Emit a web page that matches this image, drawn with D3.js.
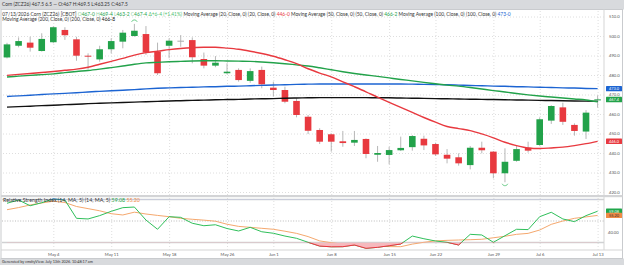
<!DOCTYPE html>
<html>
<head>
<meta charset="utf-8">
<script src="https://cdn.jsdelivr.net/npm/d3@7"></script>
<style>
  html, body { margin: 0; padding: 0; background: #fff; }
  svg { display: block; font-family: Lato, "Open Sans", sans-serif; }
</style>
</head>
<body>
<svg id="chart" width="624" height="265"></svg>
<script>
const days = ["Apr 28","Apr 29","Apr 30","May 1","May 4","May 5","May 6","May 7","May 8",
  "May 11","May 12","May 13","May 14","May 15","May 18","May 19","May 20","May 21","May 22",
  "May 26","May 27","May 28","May 29","Jun 1","Jun 2","Jun 3","Jun 4","Jun 5",
  "Jun 8","Jun 9","Jun 10","Jun 11","Jun 12","Jun 15","Jun 16","Jun 17","Jun 18",
  "Jun 22","Jun 23","Jun 24","Jun 25","Jun 26","Jun 29","Jun 30","Jul 1","Jul 2",
  "Jul 6","Jul 7","Jul 8","Jul 9","Jul 10","Jul 13"];

const open = [489, 495, 496.6, 492.3, 496.8, 503.1, 498.3, 489.9, 488, 493.2, 497.1, 500, 501, 492,
  495, 497.6, 497.9, 488.2, 484.8, 480.9, 482.6, 477, 482.6, 473.5, 472.3, 466.7, 458.6, 451.8,
  449.6, 446, 445.3, 447.2, 439.1, 439, 441.4, 443, 447.3, 444.6, 439.1, 437.8, 433.8, 442.7,
  440.7, 429.6, 436, 442.7, 444.1, 456.6, 463.4, 454.4, 451, 467];
const high = [496.5, 499.3, 499.6, 501.4, 505, 504.5, 499.6, 491.1, 495, 498.8, 503.1, 506.2, 505.1, 496.6,
  498.8, 500.5, 499.3, 491.5, 489.7, 486, 483.4, 483.4, 484.3, 476.6, 474, 468, 459.5, 452.7,
  450.1, 451.3, 451.3, 447.5, 443.6, 443.2, 448.4, 449.2, 448.9, 445.3, 442, 439.8, 443.6, 445.8,
  441, 442.4, 443.6, 445.8, 458.3, 464.5, 465.8, 455.2, 462, 469.5];
const low = [488.5, 494.2, 492, 492, 496.3, 498, 487.3, 482.9, 486.8, 491.1, 493.7, 499.6, 490.3, 480,
  488.6, 494.5, 486, 483.4, 484, 480.4, 476.6, 476, 473.2, 468.9, 465.5, 458.3, 449.7, 444.6,
  440.7, 443.2, 443.6, 437.3, 435.5, 434.2, 441, 441.2, 441.5, 438.5, 434.7, 433.5, 431.6, 439.8,
  427, 425, 435.5, 440.2, 443.6, 454.9, 454.4, 448.9, 447.2, 463.25];
const close = [495.7, 497.4, 494, 498.5, 504.5, 500.4, 489.9, 489.6, 493.2, 497.4, 501.7, 502.7, 491.5, 480.9,
  497.6, 497.6, 489.1, 484.8, 486.3, 481.7, 477.4, 482, 475.2, 472.3, 466.3, 459.5, 451.4, 445.8,
  445.8, 445.1, 446.7, 439.5, 440, 441.5, 442.6, 448.7, 443.9, 439.3, 437.1, 434.7, 442.7, 441.4,
  429.6, 435.5, 442, 441.2, 457.3, 464.1, 456, 451.3, 460.7, 467.5];

const ma20 = [479.8, 480.3, 480.8, 481.3, 481.8, 482.4, 483, 484, 485.5, 487, 488.5, 490.2, 491.5, 492.2,
  493, 493.6, 494, 494.2, 494.2, 493.8, 493.2, 492.2, 491, 489.6, 487.8, 485.8, 483.2, 481,
  479, 476.5, 474, 471.4, 468.6, 466, 463.4, 460.8, 458.2, 455.8, 453.6, 452.5, 451.5, 449.8,
  447.8, 445.5, 443.8, 442.6, 442.3, 442.6, 443, 443.8, 444.8, 446];
const ma50 = [479, 479.4, 479.8, 480.2, 480.6, 481.2, 481.8, 482.3, 483, 483.8, 484.6, 485.5, 486.2, 486.5,
  486.8, 487, 487.2, 487.3, 487.3, 487.2, 487.1, 487, 486.7, 486.3, 485.8, 485.2, 484.6, 483.7,
  482.7, 481.7, 480.8, 480, 479.3, 478.5, 477.7, 477, 476.2, 475.5, 474.8, 474.3, 473.6, 472.8,
  472, 471.3, 470.5, 469.8, 469.2, 468.7, 468.2, 467.7, 467.2, 466.3];
const ma100 = [469, 469.3, 469.6, 470, 470.3, 470.6, 470.9, 471.3, 471.6, 471.9, 472.2, 472.5, 472.9, 473.2,
  473.4, 473.6, 473.7, 473.9, 474, 474.2, 474.3, 474.5, 474.7, 474.9, 475, 475.2, 475.3, 475.4,
  475.4, 475.4, 475.4, 475.4, 475.4, 475.4, 475.4, 475.3, 475.2, 475.1, 475, 474.8, 474.6, 474.5,
  474.3, 474.2, 474, 473.9, 473.7, 473.6, 473.4, 473.3, 473.1, 473];
const ma200 = [463.5, 463.8, 464, 464.3, 464.5, 464.8, 465, 465.3, 465.5, 465.7, 465.9, 466.1, 466.3, 466.5,
  466.7, 466.8, 467, 467.1, 467.3, 467.4, 467.5, 467.7, 467.8, 467.9, 468.1, 468.2, 468.3, 468.4,
  468.4, 468.4, 468.4, 468.4, 468.3, 468.3, 468.2, 468.1, 468, 467.9, 467.8, 467.7, 467.6, 467.5,
  467.4, 467.3, 467.2, 467.1, 467, 466.9, 466.8, 466.7, 466.6, 466.5];

const rsi = [66.5, 69.5, 64.2, 67, 70.5, 69.5, 52.5, 51.9, 55, 59, 62.4, 63, 50.9, 42.3,
  54, 53.4, 47.9, 45.6, 46.5, 43, 40.7, 44.1, 40, 38.6, 36, 33.9, 30.2, 26.7,
  26, 26.1, 27.7, 24.6, 25.5, 27, 28.6, 36, 33.5, 31.4, 30.2, 27.7, 37.6, 37,
  30.2, 36.3, 42.3, 42, 54, 58.1, 51.9, 49.4, 55, 59.08];
const rsiMa = [60.5, 62.5, 64.9, 66.8, 68.4, 67.2, 63.5, 61.5, 59.5, 56.8, 55.6, 58.2, 56.5, 55.2,
  54, 52.5, 51.6, 50.8, 49.8, 47, 45, 44.1, 43.2, 42.3, 40.5, 38.5, 35.5, 31.5,
  29.8, 28.5, 27.5, 26.8, 26.5, 26.2, 26.1, 28.5, 30.2, 31.5, 32, 32.3, 32.6, 33,
  34.4, 35.8, 37.6, 38.5, 41.6, 46.9, 50, 52.5, 53.8, 55.2];

const priceTicks = [420, 430, 440, 450, 460, 470, 480, 490, 500, 510];
const rsiTicks = [40, 60];
const weekTicks = ["May 4","May 11","May 18","May 26","Jun 1","Jun 8","Jun 15","Jun 22","Jun 29","Jul 6","Jul 13"];

const GREEN = "#22a24a", RED = "#e8393f", BLUE = "#1c64d2", BLACK = "#111", ORANGE = "#f5a86e";

const svg = d3.select("#chart");
const plotLeft = 2, plotRight = 604;
const mainTop = 10, mainBottom = 195;
const rsiTop = 196, rsiBottom = 250;

const x = d3.scalePoint().domain(days).range([7, 597.6]);
const y = d3.scaleLinear().domain([420, 500]).range([192, 36]);
const yRsi = d3.scaleLinear().domain([30, 70]).range([242.5, 199.5]);

// frame
svg.append("rect").attr("width", 624).attr("height", 265).attr("fill", "#fff");
svg.append("rect").attr("x", 0).attr("y", 0).attr("width", 624).attr("height", 9.5).attr("fill", "#d8dadd");
svg.append("rect").attr("x", 0).attr("y", 258.5).attr("width", 624).attr("height", 6.5).attr("fill", "#d8dadd");
svg.append("rect").attr("x", 1).attr("y", 9.5).attr("width", 621.5).attr("height", 249)
  .attr("fill", "none").attr("stroke", "#c9cbce").attr("stroke-width", 1);
svg.append("line").attr("x1", plotRight).attr("x2", plotRight).attr("y1", 9.5).attr("y2", rsiBottom)
  .attr("stroke", "#d5d5d5");
svg.append("rect").attr("x", 1).attr("y", mainBottom).attr("width", 621.5).attr("height", 2.2).attr("fill", "#d3d4d6");
svg.append("line").attr("x1", 1).attr("x2", 622.5).attr("y1", rsiBottom).attr("y2", rsiBottom).attr("stroke", "#d5d5d5");

// grids
function dotted(g) {
  g.select(".domain").remove();
  g.selectAll("line").attr("stroke", "#dedede").attr("stroke-dasharray", "1,2");
}
svg.append("g").attr("transform", `translate(${plotRight},0)`)
  .call(d3.axisLeft(y).tickValues(priceTicks).tickSize(plotRight - plotLeft).tickFormat(""))
  .call(dotted);
svg.append("g").attr("transform", `translate(0,${mainBottom})`)
  .call(d3.axisBottom(x).tickValues(weekTicks).tickSize(-(mainBottom - mainTop)).tickFormat(""))
  .call(dotted);
svg.append("g").attr("transform", `translate(0,${rsiBottom})`)
  .call(d3.axisBottom(x).tickValues(weekTicks).tickSize(-(rsiBottom - rsiTop - 2)).tickFormat(""))
  .call(dotted);

// price axis
svg.append("g").attr("transform", `translate(${plotRight},0)`)
  .call(d3.axisRight(y).tickValues(priceTicks).tickSize(0).tickPadding(5).tickFormat(d3.format(".1f")))
  .call(g => g.select(".domain").remove())
  .call(g => g.selectAll("text").attr("font-size", 4.2).attr("fill", "#555").attr("font-family", "Lato"));

svg.append("g").attr("transform", `translate(${plotRight},0)`)
  .call(d3.axisRight(yRsi).tickValues(rsiTicks).tickSize(0).tickPadding(4).tickFormat(d3.format(".2f")))
  .call(g => g.select(".domain").remove())
  .call(g => g.selectAll("text").attr("font-size", 4.2).attr("fill", "#555").attr("font-family", "Lato"));

// date axis
svg.append("g").attr("transform", `translate(0,${rsiBottom})`)
  .call(d3.axisBottom(x).tickValues(weekTicks).tickSize(0).tickPadding(2.6))
  .call(g => g.select(".domain").remove())
  .call(g => g.selectAll("text").attr("font-size", 4.2).attr("fill", "#555").attr("font-family", "Lato"));

// main plot
svg.append("clipPath").attr("id", "mainClip").append("rect")
  .attr("x", plotLeft).attr("y", mainTop).attr("width", plotRight - plotLeft).attr("height", mainBottom - mainTop);
const main = svg.append("g").attr("clip-path", "url(#mainClip)");

const candles = days.map((d, i) => ({ d, o: open[i], h: high[i], l: low[i], c: close[i] }));
const bodyW = 6.6;
const candleColor = k => k.c > k.o ? GREEN : k.c < k.o ? RED : "#aaa";

main.selectAll("line.wick").data(candles).enter().append("line").attr("class", "wick")
  .attr("x1", k => x(k.d)).attr("x2", k => x(k.d))
  .attr("y1", k => y(k.h)).attr("y2", k => y(k.l))
  .attr("stroke", "#a4a4a4").attr("stroke-width", 0.8);

main.selectAll("rect.body").data(candles).enter().append("rect").attr("class", "body")
  .attr("x", k => x(k.d) - bodyW / 2).attr("width", bodyW)
  .attr("y", k => y(Math.max(k.o, k.c)))
  .attr("height", k => Math.max(1, Math.abs(y(k.o) - y(k.c))))
  .attr("fill", candleColor);

// swing markers
const swingHigh = 11, swingLow = 43;
main.append("path")
  .attr("d", d3.arc()({ innerRadius: 3, outerRadius: 3, startAngle: -Math.PI / 2.6, endAngle: Math.PI / 2.6 }))
  .attr("transform", `translate(${x(days[swingHigh])},${y(high[swingHigh]) - 1})`)
  .attr("fill", "none").attr("stroke", "#7fd39a").attr("stroke-width", 0.7);
main.append("path")
  .attr("d", d3.arc()({ innerRadius: 3, outerRadius: 3, startAngle: Math.PI - Math.PI / 2.6, endAngle: Math.PI + Math.PI / 2.6 }))
  .attr("transform", `translate(${x(days[swingLow])},${y(low[swingLow]) + 0.5})`)
  .attr("fill", "none").attr("stroke", "#7fd39a").attr("stroke-width", 0.7);

// moving averages
const maLine = d3.line().x((d, i) => x(days[i])).y(d => y(d)).curve(d3.curveMonotoneX);
[[ma200, BLACK], [ma100, BLUE], [ma50, GREEN], [ma20, RED]].forEach(([vals, color]) => {
  main.append("path").attr("d", maLine(vals)).attr("fill", "none")
    .attr("stroke", color).attr("stroke-width", 1.4);
});

// price tags
function tag(value, text, color, textColor, yScale) {
  const ty = yScale(value);
  svg.append("rect").attr("x", 606).attr("y", ty - 2.7).attr("width", 16).attr("height", 5.4)
    .attr("rx", 0.6).attr("fill", color);
  svg.append("text").attr("x", 614).attr("y", ty).attr("dy", "0.35em").attr("text-anchor", "middle")
    .attr("font-size", 3.9).attr("fill", textColor).text(text);
}
tag(473, "473.0", BLUE, "#fff", y);
tag(467.4, "467.4", GREEN, "#fff", y);
tag(446, "446.0", RED, "#fff", y);

// RSI panel
svg.append("clipPath").attr("id", "rsiClip").append("rect")
  .attr("x", plotLeft).attr("y", rsiTop + 1).attr("width", plotRight - plotLeft).attr("height", rsiBottom - rsiTop - 1);
svg.append("clipPath").attr("id", "obClip").append("rect")
  .attr("x", plotLeft).attr("y", rsiTop).attr("width", plotRight - plotLeft).attr("height", yRsi(70) - rsiTop);
svg.append("clipPath").attr("id", "osClip").append("rect")
  .attr("x", plotLeft).attr("y", yRsi(30)).attr("width", plotRight - plotLeft).attr("height", rsiBottom - yRsi(30));
const rsiG = svg.append("g").attr("clip-path", "url(#rsiClip)");

rsiG.append("line").attr("x1", plotLeft).attr("x2", plotRight).attr("y1", yRsi(50)).attr("y2", yRsi(50))
  .attr("stroke", "#aaa").attr("stroke-dasharray", "1,1.6").attr("stroke-width", 0.8);
[70, 30].forEach(v => rsiG.append("line").attr("x1", plotLeft).attr("x2", plotRight)
  .attr("y1", yRsi(v)).attr("y2", yRsi(v)).attr("stroke", "#d0d1d3").attr("stroke-width", 1.6));

const rsiLine = d3.line().x((d, i) => x(days[i])).y(d => yRsi(d));
const obArea = d3.area().x((d, i) => x(days[i])).y0(yRsi(70)).y1(d => yRsi(d));
const osArea = d3.area().x((d, i) => x(days[i])).y0(yRsi(30)).y1(d => yRsi(d));

rsiG.append("path").attr("d", rsiLine(rsiMa)).attr("fill", "none").attr("stroke", ORANGE).attr("stroke-width", 1);
rsiG.append("path").attr("d", rsiLine(rsi)).attr("fill", "none").attr("stroke", "#2fbf5a").attr("stroke-width", 1);

const ob = rsiG.append("g").attr("clip-path", "url(#obClip)");
ob.append("path").attr("d", obArea(rsi)).attr("fill", "#aebef0");
ob.append("path").attr("d", rsiLine(rsi)).attr("fill", "none").attr("stroke", "#3050e0").attr("stroke-width", 1);
const os = rsiG.append("g").attr("clip-path", "url(#osClip)");
os.append("path").attr("d", osArea(rsi)).attr("fill", "#f6b9bd");
os.append("path").attr("d", rsiLine(rsi)).attr("fill", "none").attr("stroke", "#ee3340").attr("stroke-width", 1);

tag(59.08, "59.08", "#1fa64a", "#fff", yRsi);
tag(55.2, "55.20", "#f08a45", "#333", yRsi);

// legends and captions
function fit(sel, width) {
  const w = sel.node().getComputedTextLength();
  sel.attr("font-size", parseFloat(sel.attr("font-size")) * width / w);
}
function legend(xPos, yPos, width, parts) {
  const t = svg.append("text").attr("x", xPos).attr("y", yPos).attr("font-size", 5).attr("fill", "#333");
  parts.forEach(([s, color]) => t.append("tspan").attr("fill", color || "#333").text(s));
  fit(t, width);
  return t;
}

legend(2, 5.7, 126, [["Corn (ZCZ26) 467.5 6.5 \u2014 O:467 H:469.5 L:463.25 C:467.5"]]);
legend(2.3, 15.9, 509, [
  ["07/13/2026 Corn (ZCZ26) [CBOT] "],
  ["O", "#8fd3a5"], ["467-0 ", GREEN], ["H", "#8fd3a5"], ["469-4 ", GREEN],
  ["L", "#8fd3a5"], ["463-2 ", GREEN], ["C", "#8fd3a5"], ["467-4 ", GREEN],
  ["\u0394+6-4 (+1.41%) ", "#4cc06e"],
  ["Moving Average (20, Close, 0) (20, Close, 0) "], ["446-0 ", RED],
  ["Moving Average (50, Close, 0) (50, Close, 0) "], ["466-2 ", GREEN],
  ["Moving Average (100, Close, 0) (100, Close, 0) "], ["473-0", BLUE]
]);
legend(2.3, 20.9, 113, [["Moving Average (200, Close, 0) (200, Close, 0) "], ["466-8", BLACK]]);
legend(3, 202.3, 137, [["Relative Strength Index (14, MA, 5) (14, MA, 5) "], ["59.08 ", "#1fa64a"], ["55.20", "#f08a45"]]);
legend(2, 263.2, 91, [["Generated by cmdtyView. July 13th 2026. 10:48:17 am"]]);
</script>
</body>
</html>
